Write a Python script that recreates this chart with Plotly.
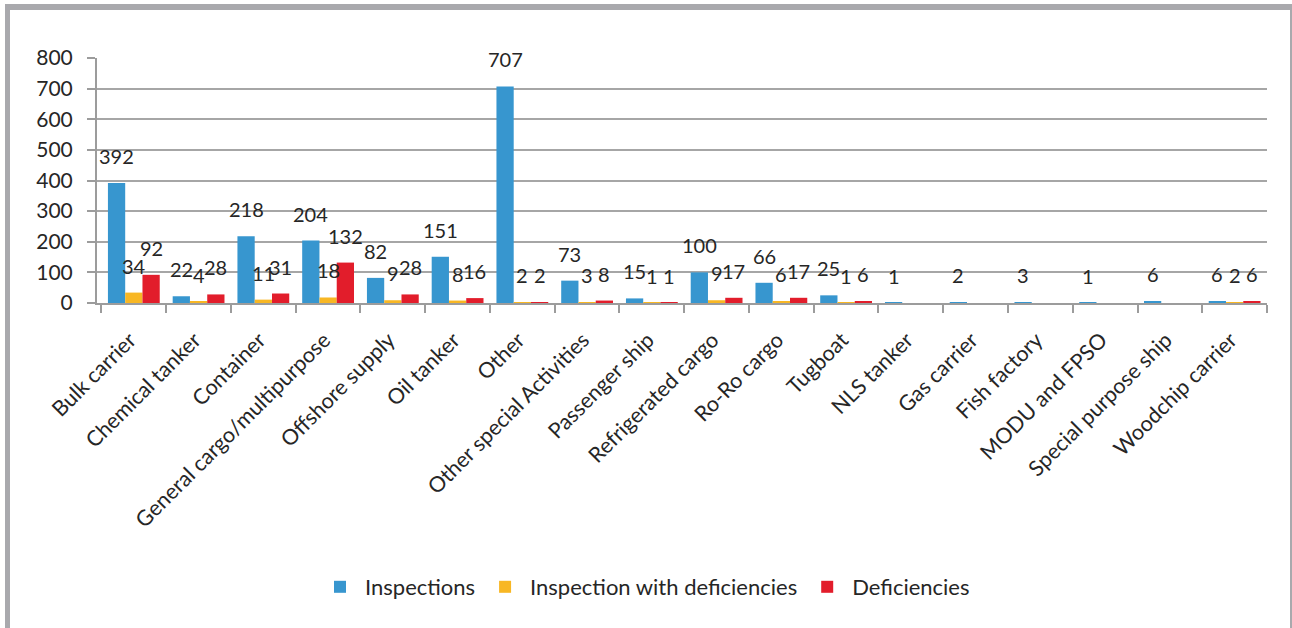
import plotly.graph_objects as go

categories = ["Bulk carrier", "Chemical tanker", "Container", "General cargo/multipurpose",
              "Offshore supply", "Oil tanker", "Other", "Other special Activities",
              "Passenger ship", "Refrigerated cargo", "Ro-Ro cargo", "Tugboat", "NLS tanker",
              "Gas carrier", "Fish factory", "MODU and FPSO", "Special purpose ship",
              "Woodchip carrier"]
inspections = [392, 22, 218, 204, 82, 151, 707, 73, 15, 100, 66, 25, 1, 2, 3, 1, 6, 6]
insp_with_def = [34, 4, 11, 18, 9, 8, 2, 3, 1, 9, 6, 1, None, None, None, None, None, 2]
deficiencies = [92, 28, 31, 132, 28, 16, 2, 8, 1, 17, 17, 6, None, None, None, None, None, 6]
y_ticks = [0, 100, 200, 300, 400, 500, 600, 700, 800]

series = [
    ("Inspections", inspections, "#3796CF"),
    ("Inspection with deficiencies", insp_with_def, "#F8B724"),
    ("Deficiencies", deficiencies, "#E21D2B"),
]

W, H = 1292, 628
ML, MR, MT, MB = 97, 25, 58, 325
plot_w = W - ML - MR
plot_h = H - MT - MB
bargap = 0.2
cat_px = plot_w / len(categories)
bar_px = cat_px * (1 - bargap) / 3
TEXT = "#262626"

fig = go.Figure()
annotations = []
for i, (name, vals, color) in enumerate(series):
    fig.add_trace(go.Bar(name=name, x=categories, y=vals, marker_color=color,
                         marker_line_width=0))
    shift = (i - 1) * bar_px
    for c, v in zip(categories, vals):
        if v is None:
            continue
        annotations.append(dict(x=c, y=v, xref="x", yref="y", text=str(v), showarrow=False,
                                xanchor="center", yanchor="bottom", xshift=shift, yshift=13,
                                font=dict(family="Lato", size=20, color=TEXT)))

def px_to_paper_x(px):
    return (px - ML) / plot_w

def px_to_paper_y(py):
    return (H - MB - py) / plot_h

frame_color = "#A9A9AD"
shapes = [
    dict(type="line", xref="paper", yref="paper", x0=px_to_paper_x(7.5), x1=px_to_paper_x(7.5),
         y0=px_to_paper_y(4), y1=px_to_paper_y(700), line=dict(color=frame_color, width=5)),
    dict(type="line", xref="paper", yref="paper", x0=px_to_paper_x(5), x1=px_to_paper_x(1292),
         y0=px_to_paper_y(7), y1=px_to_paper_y(7), line=dict(color=frame_color, width=6)),
    dict(type="line", xref="paper", yref="paper", x0=px_to_paper_x(1291), x1=px_to_paper_x(1291),
         y0=px_to_paper_y(4), y1=px_to_paper_y(700), line=dict(color=frame_color, width=2)),
]

fig.update_layout(
    width=W, height=H,
    margin=dict(l=ML, r=MR, t=MT, b=MB),
    barmode="group", bargap=bargap, bargroupgap=0,
    plot_bgcolor="white", paper_bgcolor="white",
    font=dict(family="Lato", size=18, color=TEXT),
    annotations=annotations,
    shapes=shapes,
    legend=dict(orientation="h", x=px_to_paper_x(645), y=px_to_paper_y(587),
                xanchor="center", yanchor="middle", itemwidth=40,
                font=dict(size=22, family="Lato", color=TEXT),
                itemsizing="constant", traceorder="normal"),
    xaxis=dict(tickangle=-45, showline=True, linecolor="#9C9C9C", linewidth=2,
               ticks="outside", tickson="boundaries", ticklen=8, tickcolor="#9C9C9C",
               tickwidth=1.5, tickfont=dict(family="Lato", size=21.5, color=TEXT),
               ticklabelstandoff=14, ticklabelshift=-4,
               showgrid=False, automargin=False),
    yaxis=dict(range=[0, 800], tickvals=y_ticks, showline=True, linecolor="#9C9C9C",
               linewidth=2, ticks="outside", ticklen=8, tickcolor="#9C9C9C", tickwidth=1.5,
               gridcolor="#A6A6A6", gridwidth=1.5, zeroline=False, ticklabelstandoff=10,
               automargin=False, tickfont=dict(family="Lato", size=21, color=TEXT)),
)

fig.write_html("out.html", config={"displayModeBar": False},
               post_script="document.body.style.margin='0';")
